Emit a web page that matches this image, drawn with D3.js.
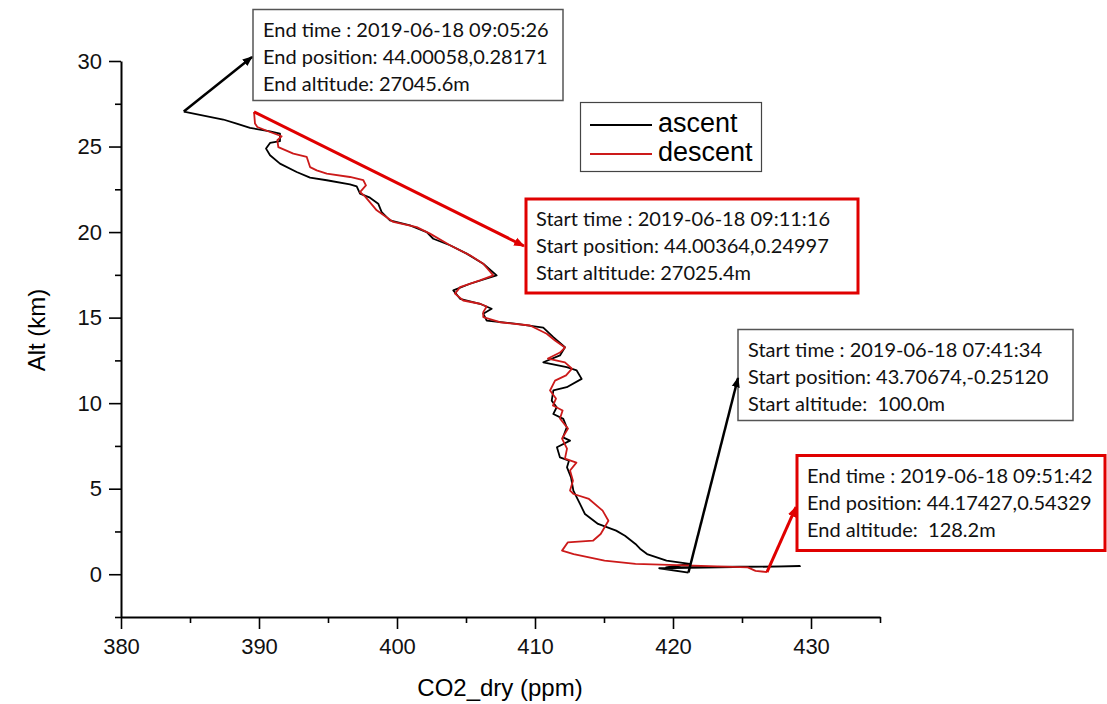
<!DOCTYPE html>
<html>
<head>
<meta charset="utf-8">
<script src="https://cdn.jsdelivr.net/npm/d3@7"></script>
<style>
  body { margin: 0; background: #fff; }
  svg { display: block; }
  .axis text { font-family: "Liberation Sans", Arial, sans-serif; font-size: 22px; fill: #111; }
  .axis path, .axis line { stroke: #000; }
  .note text { font-family: Lato, "Open Sans", sans-serif; font-size: 20px; fill: #111; white-space: pre; }
</style>
</head>
<body>
<script>
// tick values
const xMajor = [380, 390, 400, 410, 420, 430];
const xMinor = [385, 395, 405, 415, 425, 435];
const yMajor = [0, 5, 10, 15, 20, 25, 30];
const yMinor = [-2.5, 2.5, 7.5, 12.5, 17.5, 22.5, 27.5];

// ascent, ground -> top
const ascentCO2 = [421.12, 419.0, 429.2, 419.5, 421.21, 419.53, 418.12, 417.61, 417.28, 416.52, 415.88, 414.57, 413.62,
  413.26, 412.78, 412.61, 412.32, 412.46, 411.81, 411.59, 412.54, 412.03, 412.30, 412.05, 411.33, 411.57, 411.21,
  411.33, 412.30, 413.38, 413.02, 412.30, 410.60, 411.81, 412.17, 411.33, 410.60, 408.67, 406.50, 406.25, 406.86,
  406.01, 404.57, 404.08, 405.29, 407.22, 406.25, 405.05, 403.84, 402.63, 402.15, 400.94, 399.49, 398.89, 398.64,
  398.04, 397.32, 397.08, 396.59, 394.91, 393.70, 392.73, 391.52, 390.80, 390.51, 390.80, 391.52, 391.52, 390.80,
  389.35, 388.38, 387.41, 384.55];
const ascentAlt = [0.10, 0.35, 0.47, 0.40, 0.60, 0.79, 1.18, 1.49, 1.77, 2.25, 2.55, 2.94, 3.52,
  4.11, 4.89, 5.66, 6.25, 6.64, 6.83, 7.42, 7.81, 8.00, 8.59, 9.08, 9.37, 9.76, 10.15,
  10.74, 10.93, 11.42, 11.91, 12.10, 12.39, 12.79, 13.27, 13.86, 14.41, 14.64, 14.83, 15.23, 15.52,
  15.81, 16.10, 16.59, 16.98, 17.47, 18.15, 18.74, 19.23, 19.61, 20.00, 20.39, 20.69, 21.17, 21.66,
  22.01, 22.25, 22.67, 22.79, 23.03, 23.18, 23.51, 24.00, 24.49, 24.88, 25.21, 25.31, 25.76, 25.89,
  26.09, 26.34, 26.58, 27.046];

// descent, top -> ground
const descentCO2 = [389.64, 389.71, 389.88, 390.80, 391.64, 391.33, 391.40, 392.49, 393.46, 393.70, 394.18, 394.91,
  396.59, 397.56, 397.75, 397.32, 397.68, 398.53, 399.73, 401.43, 402.39, 403.84, 405.29, 406.25, 406.98, 406.01,
  404.57, 404.20, 404.80, 406.01, 406.50, 406.25, 406.25, 407.46, 409.64, 410.85, 411.45, 412.17, 411.81, 410.94,
  412.17, 412.68, 412.25, 411.45, 411.09, 411.52, 411.30, 412.00, 411.81, 412.39, 411.96, 412.32, 412.17, 413.00,
  412.54, 412.75, 412.54, 412.80, 413.91, 414.90, 415.32, 414.76, 414.20, 412.37, 411.96, 412.80, 415.04, 417.28,
  421.49, 425.42, 425.98, 426.81];
const descentAlt = [27.025, 26.34, 26.14, 25.85, 25.60, 25.37, 24.97, 24.59, 24.39, 23.80, 23.61, 23.42,
  23.22, 23.03, 22.73, 22.34, 22.09, 21.27, 20.59, 20.29, 19.91, 19.23, 18.64, 18.15, 17.47, 17.18,
  16.78, 16.40, 16.00, 15.81, 15.65, 15.32, 15.03, 14.73, 14.54, 14.06, 13.66, 13.25, 12.96, 12.61,
  12.38, 12.02, 11.62, 11.32, 10.74, 10.27, 9.86, 9.57, 9.10, 8.51, 7.93, 7.34, 6.76, 6.52,
  6.06, 5.47, 4.89, 4.69, 4.40, 3.72, 3.13, 2.35, 1.96, 1.86, 1.38, 1.18, 0.79, 0.60,
  0.50, 0.40, 0.20, 0.128];

const seriesNames = ["ascent", "descent"];

const noteEndAscent = ["End time : 2019-06-18 09:05:26", "End position: 44.00058,0.28171", "End altitude: 27045.6m"];
const noteStartDescent = ["Start time : 2019-06-18 09:11:16", "Start position: 44.00364,0.24997", "Start altitude: 27025.4m"];
const noteStartAscent = ["Start time : 2019-06-18 07:41:34", "Start position: 43.70674,-0.25120", "Start altitude:  100.0m"];
const noteEndDescent = ["End time : 2019-06-18 09:51:42", "End position: 44.17427,0.54329", "End altitude:  128.2m"];

const black = "#000";
const lineRed = "#cc1a1a";
const boxRed = "#e00000";

function zip(a, b) {
  return a.map((v, i) => [v, b[i]]);
}

function drawAxes(svg, x, y) {
  let gx = svg.append("g")
    .attr("class", "axis")
    .attr("transform", "translate(0," + y(-2.5) + ")");
  gx.call(d3.axisBottom(x).tickValues(xMajor).tickSize(12).tickSizeOuter(0).tickPadding(9).tickFormat(d3.format("d")));
  gx.append("g").call(d3.axisBottom(x).tickValues(xMinor).tickSize(6).tickSizeOuter(0).tickFormat(""))
    .select(".domain").remove();

  let gy = svg.append("g")
    .attr("class", "axis")
    .attr("transform", "translate(" + x(380) + ",0)");
  gy.call(d3.axisLeft(y).tickValues(yMajor).tickSize(12).tickSizeOuter(0).tickPadding(7).tickFormat(d3.format("d")));
  gy.append("g").call(d3.axisLeft(y).tickValues(yMinor).tickSize(6).tickSizeOuter(0).tickFormat(""))
    .select(".domain").remove();

  svg.selectAll(".axis .domain").attr("stroke-width", 2);
  svg.selectAll(".axis .tick line").attr("stroke-width", 1.6);

  svg.append("text")
    .attr("x", 500).attr("y", 696)
    .attr("text-anchor", "middle")
    .style("font-family", "'Liberation Sans', Arial, sans-serif")
    .style("font-size", "24px")
    .text("CO2_dry (ppm)");

  svg.append("text")
    .attr("transform", "translate(45,330) rotate(-90)")
    .attr("text-anchor", "middle")
    .style("font-family", "'Liberation Sans', Arial, sans-serif")
    .style("font-size", "24px")
    .text("Alt (km)");
}

function drawLegend(svg) {
  let g = svg.append("g");
  g.append("rect")
    .attr("x", 580.5).attr("y", 102.5).attr("width", 181).attr("height", 69)
    .attr("fill", "#fff").attr("stroke", "#444").attr("stroke-width", 1.2);
  [black, lineRed].forEach((c, i) => {
    g.append("line")
      .attr("x1", 590).attr("x2", 652)
      .attr("y1", 125 + i * 29).attr("y2", 125 + i * 29)
      .attr("stroke", c).attr("stroke-width", 2);
    g.append("text")
      .attr("x", 658).attr("y", 132 + i * 29)
      .style("font-family", "'Liberation Sans', Arial, sans-serif")
      .style("font-size", "27px")
      .text(seriesNames[i]);
  });
}

function drawNote(svg, box, lines, color, width) {
  let g = svg.append("g").attr("class", "note");
  g.append("rect")
    .attr("x", box.x).attr("y", box.y).attr("width", box.w).attr("height", box.h)
    .attr("fill", "#fff").attr("stroke", color).attr("stroke-width", width);
  g.selectAll("text")
    .data(lines)
    .enter()
    .append("text")
    .attr("x", box.x + 10)
    .attr("y", (d, i) => box.y + 27 + i * 27)
    .text(d => d);
}

function drawArrow(svg, from, to, color, width, marker) {
  svg.append("line")
    .attr("x1", from[0]).attr("y1", from[1])
    .attr("x2", to[0]).attr("y2", to[1])
    .attr("stroke", color).attr("stroke-width", width)
    .attr("marker-end", "url(#" + marker + ")");
}

function main() {
  let svg = d3.select("body")
    .append("svg")
    .attr("width", 1107)
    .attr("height", 704)
    .attr("style", "background: #fff");

  let defs = svg.append("defs");
  [["headBlack", black, 9], ["headRed", boxRed, 8]].forEach(m => {
    defs.append("marker")
      .attr("id", m[0])
      .attr("viewBox", "0 0 10 10")
      .attr("refX", 9).attr("refY", 5)
      .attr("markerWidth", m[2] / 2.2).attr("markerHeight", m[2] / 2.2)
      .attr("orient", "auto")
      .append("path")
      .attr("d", "M0,1 L10,5 L0,9 z")
      .attr("fill", m[1]);
  });

  let x = d3.scaleLinear().domain([380, 435]).range([121, 880]);
  let y = d3.scaleLinear().domain([-2.5, 30]).range([617, 61]);

  let ascent = zip(ascentCO2, ascentAlt);
  let descent = zip(descentCO2, descentAlt);
  let line = d3.line().x(d => x(d[0])).y(d => y(d[1]));

  svg.append("path").datum(ascent)
    .attr("d", line).attr("fill", "none")
    .attr("stroke", black).attr("stroke-width", 1.8).attr("stroke-linejoin", "round");
  svg.append("path").datum(descent)
    .attr("d", line).attr("fill", "none")
    .attr("stroke", lineRed).attr("stroke-width", 1.8).attr("stroke-linejoin", "round");

  drawAxes(svg, x, y);
  drawLegend(svg);

  let boxA = { x: 253, y: 9.5, w: 310, h: 91 };
  let boxR = { x: 526, y: 199, w: 332, h: 94 };
  let boxB = { x: 738, y: 329.5, w: 335, h: 91 };
  let boxC = { x: 797, y: 455.5, w: 308, h: 95 };

  drawNote(svg, boxA, noteEndAscent, "#555", 1.5);
  drawNote(svg, boxR, noteStartDescent, boxRed, 3);
  drawNote(svg, boxB, noteStartAscent, "#555", 1.5);
  drawNote(svg, boxC, noteEndDescent, boxRed, 3);

  let aTop = ascent[ascent.length - 1], aGround = ascent[0];
  let dTop = descent[0], dGround = descent[descent.length - 1];

  drawArrow(svg, [x(aTop[0]), y(aTop[1])], [boxA.x - 1, 57], black, 2.5, "headBlack");
  drawArrow(svg, [x(dTop[0]), y(dTop[1])], [boxR.x - 2, 246], boxRed, 3, "headRed");
  drawArrow(svg, [x(aGround[0]), y(aGround[1])], [boxB.x, 378], black, 2.5, "headBlack");
  drawArrow(svg, [x(dGround[0]), y(dGround[1])], [boxC.x - 1, 507], boxRed, 3, "headRed");
}

main();
</script>
</body>
</html>
